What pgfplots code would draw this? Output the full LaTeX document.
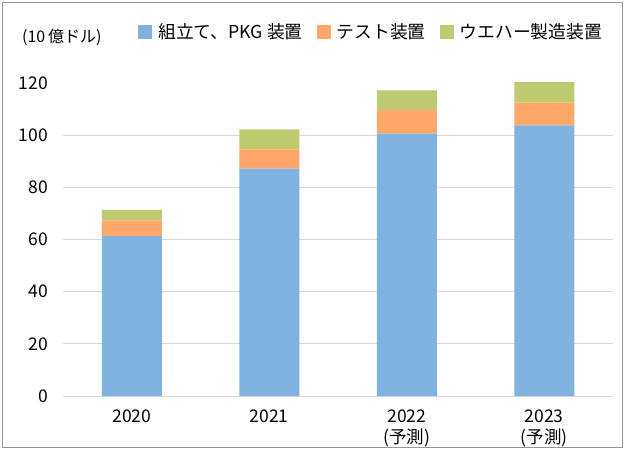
\documentclass[border=0pt]{standalone}
\usepackage{fontspec}
\setmainfont{Noto Sans CJK JP}
\usepackage{pgfplots}
\pgfplotsset{compat=1.18}
\definecolor{cblue}{RGB}{127,178,225}
\definecolor{corange}{RGB}{255,168,106}
\definecolor{cgreen}{RGB}{190,201,112}
\definecolor{gridc}{RGB}{217,217,217}
\definecolor{framec}{RGB}{150,150,150}
\newcommand{\lbl}{\fontsize{17.5}{21}\selectfont}
\newcommand{\leg}{\fontsize{17.8}{21}\selectfont}
\pgfplotsset{sq/.style={legend image code/.code={\fill[##1] (0pt,-7pt) rectangle (14pt,7pt);}}}

\begin{document}
\begin{tikzpicture}[x=1pt,y=1pt]
\begin{axis}[at={(63pt,54pt)}, anchor=south west, scale only axis,
  width=550pt, height=313pt,
  ybar stacked, bar width=60pt,
  ymin=0, ymax=120, xmin=-0.5, xmax=3.5,
  xtick={0,1,2,3},
  xticklabels={2020,2021,{2022\\(予測)},{2023\\(予測)}},
  xticklabel style={align=center, anchor=north, inner sep=0pt, yshift=-14pt, font=\lbl},
  ytick={0,20,...,100}, extra y ticks={120}, extra y tick style={grid=none},
  ymajorgrids, major grid style={color=gridc, line width=1pt},
  yticklabel style={anchor=east, inner sep=0pt, xshift=-15pt, font=\lbl,
    /pgf/number format/assume math mode=true},
  axis line style={draw=none}, tick style={draw=none}, major tick length=0pt,
  legend columns=3,
  legend style={at={(0,1)}, anchor=west, xshift=75pt, yshift=51pt,
    draw=none, fill=none, inner sep=0pt, font=\leg, nodes={inner sep=0pt},
    /tikz/every odd column/.append style={column sep=6pt},
    /tikz/every even column/.append style={column sep=14pt}},
]
\addplot[fill=cblue, draw=none, sq]
  coordinates {(0,61.3) (1,87.2) (2,100.6) (3,103.8)};
\addplot[fill=corange, draw=none, sq]
  coordinates {(0,6.0) (1,7.4) (2,9.1) (3,8.7)};
\addplot[fill=cgreen, draw=none, sq]
  coordinates {(0,4.1) (1,7.6) (2,7.5) (3,8.0)};
\legend{組立て、PKG 装置,テスト装置,ウエハー製造装置}
\end{axis}
\node[anchor=west, inner sep=0pt, font=\fontsize{16}{19}\selectfont] at (22,412.5) {(10\,億ドル)};
\draw[color=framec, line width=1.2pt] (2.5,2.5) rectangle (622.5,447.5);
\pgfresetboundingbox
\path (0,0) rectangle (626,450);
\end{tikzpicture}
\end{document}
